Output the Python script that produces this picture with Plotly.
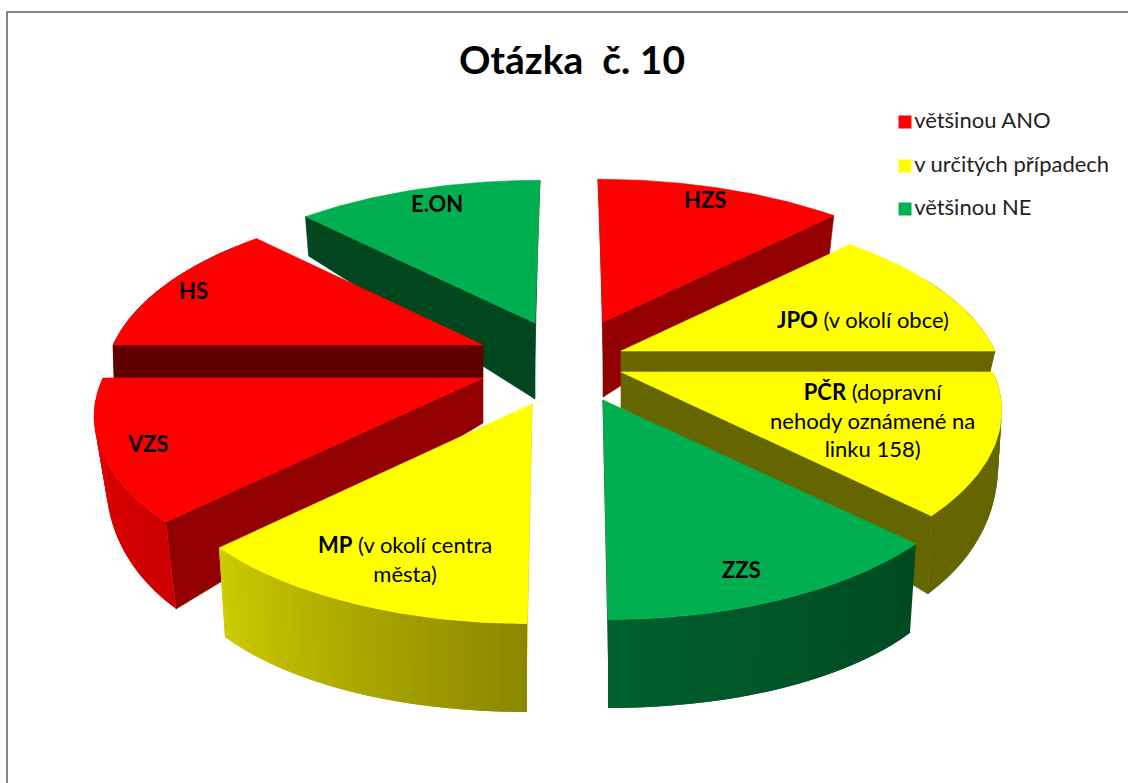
import numpy as np
import plotly.graph_objects as go

# ---- data ----
categories = ["HZS", "JPO", "PČR", "ZZS", "MP", "VZS", "HS", "E.ON"]
values = [12.5, 12.5, 12.5, 12.5, 12.5, 12.5, 12.5, 12.5]
answer_groups = ["většinou ANO", "v určitých případech", "v určitých případech", "většinou NE",
                 "v určitých případech", "většinou ANO", "většinou ANO", "většinou NE"]
label_texts = ["<b>HZS</b>", "<b>JPO</b> (v okolí obce)",
               "<b>PČR</b> (dopravní<br>nehody oznámené na<br>linku 158)", "<b>ZZS</b>",
               "<b>MP</b> (v okolí centra<br>města)", "<b>VZS</b>", "<b>HS</b>", "<b>E.ON</b>"]
legend_labels = ["většinou ANO", "v určitých případech", "většinou NE"]
title_text = "<b>Otázka  č. 10</b>"

# ---- layout of the exploded 3-D pie (pixels of the axes) ----
apex_x = [603, 621, 621, 603, 532, 483, 483, 535]
apex_y = [322, 351, 372, 400, 404, 378, 345, 323]
apex_thick = [75, 21, 36, 47, 47, 45, 33, 76]
rim_b = [377, 374, 372, 375, 375, 380, 370, 375]
label_x = [705, 863, 872, 741, 405, 148, 193, 437]
label_y = [199, 319, 420, 569, 559, 443, 290, 203]
legend_x = [905, 905, 905]
legend_y = [122, 166, 209]
group_color = {"většinou ANO": "#FF0000", "v určitých případech": "#FFFF00", "většinou NE": "#00B050"}
wall_start = [None, None, None, None, None, "#930000", "#600000", "#00471F"]
wall_end = ["#930000", "#6B6600", "#666600", None, None, None, None, None]
arc_from = [None, "#6B6600", "#666600", "#004A22", "#8C8600", "#CC0000", "#600000", None]
arc_to = [None, "#6B6600", "#666600", "#00602F", "#CCCC00", "#E60000", "#600000", None]
sliver = ["#930000", None, None, "#00471F", "#C8C800", None, None, "#00471F"]
draw_order = [7, 6, 5, 4, 0, 1, 2, 3]

TOP_A, TOP_K = 173.0, 0.212
BOT_B, BOT_K = 369.0, 0.208
BOT_COS = [-1.0, -0.707, 0.0, 0.707, 1.0]
BOT_DY = [261.0, 186.0, 0.0, -143.0, -193.0]
LEAN = 5.0


def top_pt(i, deg, side):
    a = np.radians(deg)
    X, Y = np.sin(a), np.cos(a)
    d = 1 + TOP_K * Y
    return apex_x[i] + rim_b[i] * X / d - side * LEAN * Y * (1 - abs(X)), apex_y[i] - TOP_A * Y / d


def bot_pt(i, deg, side):
    a = np.radians(deg)
    X, Y = np.sin(a), np.cos(a)
    d = 1 + BOT_K * Y
    return (apex_x[i] + BOT_B * X / d - side * LEAN * Y * (1 - abs(X)),
            apex_y[i] + apex_thick[i] + np.interp(Y, BOT_COS, BOT_DY))


def mix(c1, c2, t):
    a = [int(c1[j:j + 2], 16) for j in (1, 3, 5)]
    b = [int(c2[j:j + 2], 16) for j in (1, 3, 5)]
    return "rgb(%d,%d,%d)" % tuple(round(p + (q - p) * t) for p, q in zip(a, b))


def poly(fig, xs, ys, color, outline=True):
    fig.add_trace(go.Scatter(x=list(xs) + [xs[0]], y=list(ys) + [ys[0]],
                             mode="lines" if outline else "none", fill="toself",
                             fillcolor=color, line=dict(color=color, width=0.6),
                             hoverinfo="skip", showlegend=False))


fig = go.Figure()
edges = np.concatenate([[0], np.cumsum(values)]) / np.sum(values) * 360.0

for i in draw_order:
    a0, a1 = edges[i], edges[i + 1]
    side = 1 if np.sin(np.radians((a0 + a1) / 2)) > 0 else -1
    ax, ay = apex_x[i], apex_y[i]
    bx, by = ax, ay + apex_thick[i]

    # thin hidden-side wall that peeps out along the radial edge nearest the gap
    if sliver[i]:
        edge = a0 if side > 0 else a1
        if i in (3, 4):
            edge = a1 if side > 0 else a0
        tx, ty = top_pt(i, edge, side)
        ux, uy = bot_pt(i, edge, side)
        poly(fig, [ax, bx + side, ux + side * 1.5, tx], [ay, by, max(uy, ty), ty], sliver[i])

    # radial walls
    for col, edge in ((wall_start[i], a0), (wall_end[i], a1)):
        if col:
            tx, ty = top_pt(i, edge, side)
            ux, uy = bot_pt(i, edge, side)
            poly(fig, [ax, bx, ux, tx], [ay, by, uy, ty], col)

    # curved wall, split in overlapping strips for the shading
    if arc_from[i]:
        n = 40
        steps = np.linspace(a0, a1, n + 1)
        for k in range(n):
            hi = min(k + 2, n)
            t0 = top_pt(i, steps[k], side)
            t1 = top_pt(i, steps[hi], side)
            b0 = bot_pt(i, steps[k], side)
            b1 = bot_pt(i, steps[hi], side)
            if b0[1] < t0[1] or b1[1] < t1[1]:
                continue
            poly(fig, [t0[0], t1[0], b1[0], b0[0]], [t0[1], t1[1], b1[1], b0[1]],
                 mix(arc_from[i], arc_to[i], (k + 0.5) / n), outline=False)

    # top face
    rim = np.linspace(a0, a1, 61)
    pts = [top_pt(i, d, side) for d in rim]
    poly(fig, [ax] + [p[0] for p in pts], [ay] + [p[1] for p in pts], group_color[answer_groups[i]])

# legend entries, drawn in place
for name, lx, ly in zip(legend_labels, legend_x, legend_y):
    fig.add_trace(go.Scatter(x=[lx], y=[ly], mode="markers+text", text=[name], textposition="middle right",
                             marker=dict(symbol="square", size=13, color=group_color[name]),
                             textfont=dict(family="Lato", size=22, color="#222222"),
                             hoverinfo="skip", showlegend=False, cliponaxis=False))

annotations = [dict(x=x, y=y, text=t, showarrow=False, xanchor="center", yanchor="middle",
                    font=dict(family="Lato", size=22, color="#000000"))
               for x, y, t in zip(label_x, label_y, label_texts)]
annotations.append(dict(x=572, y=59, text=title_text, showarrow=False, xanchor="center", yanchor="middle",
                        font=dict(family="Lato", size=39, color="#000000")))

fig.update_layout(
    width=1128, height=783, margin=dict(l=0, r=0, t=0, b=0), showlegend=False,
    paper_bgcolor="white", plot_bgcolor="white", annotations=annotations,
    xaxis=dict(range=[0, 1128], visible=False, domain=[0, 1], fixedrange=True),
    yaxis=dict(range=[783, 0], visible=False, domain=[0, 1], fixedrange=True),
    shapes=[dict(type="rect", xref="x", yref="y", x0=7, y0=12, x1=1150, y1=800,
                 line=dict(color="#868686", width=2), layer="below")],
)
fig.write_html("out.html", config={"displayModeBar": False},
               post_script="document.body.style.margin='0';document.body.style.overflow='hidden';")
